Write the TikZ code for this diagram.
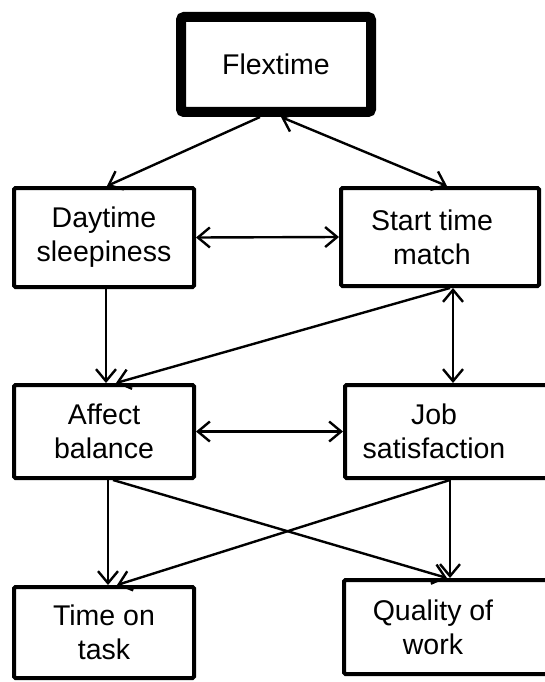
\documentclass[tikz,border=0pt]{standalone}
\usepackage{fontspec}
\setmainfont{Liberation Sans}
\usetikzlibrary{arrows.meta}

\tikzset{
  factortext/.style={align=center, font=\fontsize{28.5}{34}\selectfont},
  factor/.style={draw=black, line width=4pt, rounded corners=1.5pt, inner sep=0pt, factortext},
  mainfactor/.style={factor, line width=10pt, rounded corners=3pt},
  link/.style={line width=2.4pt, -{Straight Barb[length=12pt,width=20pt]}},
  twoway/.style={line width=2.4pt, {Straight Barb[length=12pt,width=20pt]}-{Straight Barb[length=12pt,width=20pt]}}
}

\begin{document}
\begin{tikzpicture}[x=1pt, y=-1pt]
  \useasboundingbox (0,0) rectangle (544,682);

  % Boxes (left column centred, right column text sits a bit left)
  \node[mainfactor, minimum width=190pt, minimum height=95pt] (flex) at (276,64.5) {Flextime};
  \node[factor, minimum width=180pt, minimum height=99pt] (day) at (104,237.5) {Daytime\\sleepiness};
  \node[factor, minimum width=198pt, minimum height=98pt,
        label={[factortext, xshift=-8pt]center:{Start time\\match}}] (start) at (440,237) {};
  \node[factor, minimum width=240pt, minimum height=93pt,
        label={[factortext, xshift=-31pt]center:{Job\\satisfaction}}] (job) at (465,431.5) {};
  \node[factor, minimum width=180pt, minimum height=93pt] (affect) at (104,431.5) {Affect\\balance};
  \node[factor, minimum width=180pt, minimum height=91pt] (time) at (104,632.5) {Time on\\task};
  \node[factor, minimum width=240pt, minimum height=94pt,
        label={[factortext, xshift=-31pt]center:{Quality of\\work}}] (quality) at (464,627) {};

  % Top row links
  \draw[link] ([xshift=-16pt]flex.south) -- ([xshift=3pt]day.north);
  \draw[twoway] ([xshift=5pt]flex.south) -- ([xshift=7pt]start.north);
  \draw[twoway] (day.east) -- (start.west);

  % Middle row links
  \draw[link] ([xshift=2pt]day.south) -- ([xshift=2pt]affect.north);
  \draw[link] ([xshift=10pt]start.south) -- ([xshift=12pt]affect.north);
  \draw[twoway] ([xshift=13pt]start.south) -- ([xshift=-12pt]job.north);
  \draw[twoway] (affect.east) -- (affect.east -| job.west);

  % Outcomes
  \draw[link] ([xshift=4pt]affect.south) -- ([xshift=4pt]time.north);
  \draw[link] ([xshift=9pt]affect.south) -- ([xshift=-17pt]quality.north);
  \draw[link] ([xshift=-15pt]job.south) -- ([xshift=13pt]time.north);
  \draw[link] ([xshift=-15pt]job.south) -- ([xshift=-14pt]quality.north);
\end{tikzpicture}
\end{document}
